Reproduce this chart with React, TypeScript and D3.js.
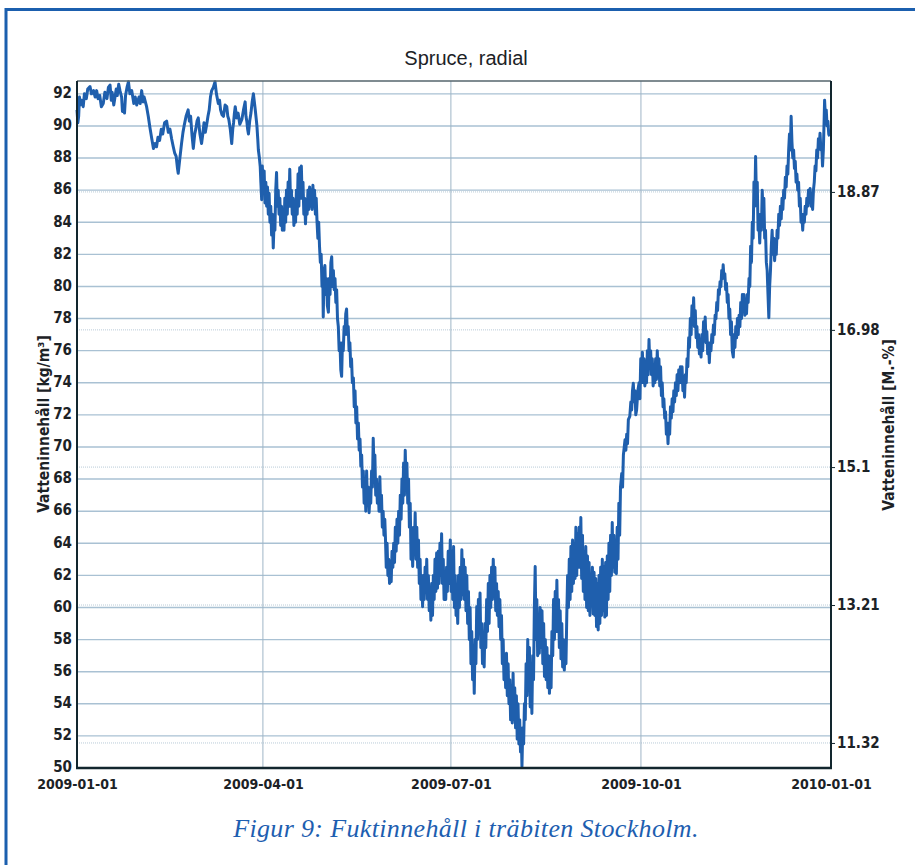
import { useEffect, useRef } from "react";
import * as d3 from "d3";

// moisture readings as [day of year (from 2009-01-01), kg/m³]
const q1: [number, number][] = [
  [0, 91.0], [0.4, 90.2], [0.8, 90.6], [1.2, 91.8], [1.5, 91.3], [2.2, 91.6], [3, 91.2], [3.6, 92.0], [4.5, 91.7],
  [5.2, 92.3], [6.3, 92.45], [7, 92.0], [8, 92.2], [8.8, 91.8], [9.5, 92.2], [10.2, 91.7], [11, 91.9], [11.8, 91.2],
  [12.7, 91.4], [13.5, 92.1], [14.5, 91.7], [15.2, 92.4], [16, 92.55], [16.6, 91.6], [17, 92.1], [17.8, 91.3],
  [18.4, 91.8], [19, 92.3], [19.5, 91.9], [20.2, 92.6], [20.8, 92.2], [21.6, 91.8], [22, 90.9], [22.4, 91.3],
  [23, 90.8], [23.5, 91.9], [24.2, 92.4], [24.9, 92.75], [25.6, 92.0], [26.5, 92.2], [27.5, 91.4], [28.2, 91.8],
  [28.9, 91.3], [30, 91.8], [30.6, 91.4], [31.3, 92.2], [32, 91.5], [32.5, 91.8], [33.7, 91.2], [34.5, 90.6],
  [35.3, 89.9], [36.2, 89.2], [37, 88.6], [37.8, 88.9], [38.5, 88.7], [39.2, 89.3], [40, 89.1], [40.8, 89.8],
  [41.5, 89.5], [42.4, 90.2], [43.4, 90.3], [44.2, 89.6], [45, 89.8], [45.8, 89.2], [46.6, 88.7], [47.3, 88.3],
  [48, 88.1], [48.6, 87.4], [49, 87.05], [49.8, 88.0], [50.6, 88.9], [51.3, 89.6], [52, 90.1], [52.8, 90.6],
  [53.8, 91.0], [54.4, 90.3], [55, 90.6], [55.7, 89.4], [56.3, 88.6], [57, 89.5], [57.5, 89.8], [58.1, 90.3],
  [58.7, 90.5], [59.5, 89.5], [60.3, 88.9], [60.9, 89.5], [61.5, 90.2], [62.1, 89.6], [62.8, 90.1], [63.4, 90.6],
  [64, 91.0], [64.6, 91.8], [65.2, 92.2], [66, 92.4], [66.8, 92.75], [67.5, 92.0], [68.4, 91.4], [69, 91.6],
  [69.5, 91.0], [70.2, 90.7], [70.9, 90.6], [71.7, 91.3], [72.5, 91.2], [73, 90.6], [73.5, 90.4], [74.2, 89.8],
  [74.9, 88.9], [75.4, 89.8], [75.8, 90.2], [76.2, 90.8], [76.6, 91.2], [77.3, 90.5], [78, 90.8], [78.8, 90.1],
  [79.8, 90.4], [80.6, 91.0], [81.4, 91.5], [81.8, 90.6], [82.2, 90.3], [82.6, 89.8], [83, 89.5], [83.6, 90.3],
  [84.2, 90.8], [84.8, 91.5], [85.4, 92.0], [86.3, 91.0], [86.7, 90.5], [87.1, 90.0], [87.5, 89.2], [87.8, 88.5],
  [88.3, 88.0], [88.7, 87.45], [89.0, 86.5], [89.4, 85.4], [89.7, 87.5],
];

const q2: [number, number][] = [
  [90.2, 86.0], [90.6, 87.2], [91, 85.2], [91.4, 86.5], [91.8, 85.0], [92.2, 86.2], [92.6, 84.5], [93, 85.8],
  [93.4, 84.0], [93.8, 85.0], [94.2, 83.2], [94.6, 84.5], [95, 82.4], [95.4, 84.0], [95.8, 83.5], [96.2, 86.0],
  [96.6, 87.1], [97, 85.0], [97.4, 86.0], [97.8, 84.5], [98.2, 85.5], [98.6, 83.8], [99, 85.0], [99.4, 83.5],
  [99.8, 84.5], [100.2, 83.5], [100.6, 85.5], [101, 84.0], [101.4, 86.0], [101.8, 84.5], [102.2, 86.5], [102.6, 85.0],
  [103, 87.3], [103.4, 85.0], [103.8, 86.0], [104.2, 84.5], [104.6, 85.5], [105, 83.8], [105.4, 85.0], [105.8, 84.0],
  [106.2, 86.0], [106.6, 84.5], [107, 87.0], [107.4, 85.0], [107.8, 87.4], [108.2, 85.5], [108.6, 87.5], [109, 85.5],
  [109.4, 86.5], [109.8, 84.5], [110.2, 85.5], [110.6, 83.9], [111, 85.2], [111.4, 84.5], [111.8, 86.0], [112.2, 84.8],
  [112.6, 86.2], [113, 85.0], [113.4, 86.0], [113.8, 84.8], [114.2, 86.3], [114.6, 85.0], [115, 86.0], [115.4, 84.5],
  [115.8, 85.5], [116.2, 84.0], [116.6, 83.0], [117, 84.0], [117.4, 82.5], [117.8, 81.5], [118.2, 82.0], [118.6, 80.0],
  [119, 80.5], [119.2, 78.1], [119.6, 81.0], [120, 81.3], [120.4, 79.5], [120.8, 80.5], [121.2, 78.8], [121.7, 78.4],
  [122.1, 80.5], [122.5, 79.5], [122.9, 81.5], [123.3, 81.85], [123.7, 80.0], [124.1, 81.0], [124.5, 79.8], [124.9, 80.5],
  [125.3, 79.0], [125.7, 79.8], [126.1, 78.0], [126.5, 77.5], [126.9, 76.0], [127.3, 76.5], [127.7, 74.8], [128.1, 74.4],
  [128.5, 76.5], [128.9, 76.0], [129.3, 77.5], [129.7, 77.0], [130.1, 78.3], [130.5, 78.6], [130.9, 77.0], [131.3, 77.5],
  [131.7, 76.0], [132.1, 76.5], [132.5, 75.0], [132.9, 75.5], [133.3, 74.0], [133.8, 74.3], [134.2, 72.5], [134.6, 73.5],
  [135, 71.5], [135.4, 72.5], [135.8, 70.5], [136.2, 71.5], [136.6, 69.8], [137, 70.5], [137.4, 68.8], [137.8, 69.5],
  [138.2, 67.5], [138.6, 68.5], [139, 66.5], [139.4, 68.0], [139.8, 66.0], [140.2, 68.5], [140.6, 66.5], [141, 67.5],
  [141.4, 65.9], [141.8, 67.0], [142.2, 66.5], [142.6, 68.5], [143, 67.5], [143.4, 70.55], [143.8, 68.5], [144.2, 69.5],
  [144.6, 67.0], [145, 68.0], [145.4, 66.5], [145.8, 67.5], [146.2, 66.0], [146.6, 68.15], [147, 66.0], [147.4, 67.0],
  [147.8, 65.0], [148.2, 66.0], [148.6, 64.5], [149, 65.5], [149.3, 64.4], [149.7, 62.5], [150.1, 64.0], [150.5, 62.0],
  [150.9, 63.0], [151.3, 61.5], [151.7, 62.5], [152.1, 61.6], [152.5, 63.5], [152.9, 62.5], [153.3, 64.0], [153.7, 62.8],
  [154.1, 65.0], [154.5, 63.5], [154.9, 65.5], [155.3, 64.0], [155.7, 66.0], [156.1, 64.5], [156.5, 67.0], [156.9, 65.5],
  [157.3, 68.0], [157.7, 66.5], [158.1, 69.0], [158.5, 67.0], [158.9, 69.8], [159.3, 67.5], [159.7, 69.0], [160.1, 66.5],
  [160.5, 68.0], [160.9, 65.0], [161.3, 66.5], [161.7, 63.0], [162.1, 64.5], [162.5, 62.55], [162.9, 65.0], [163.3, 63.5],
  [163.7, 65.9], [164.1, 63.0], [164.5, 65.0], [164.9, 62.5], [165.3, 64.2], [165.7, 61.5], [166.1, 63.0], [166.5, 60.5],
  [166.9, 62.0], [167.3, 60.05], [167.7, 62.0], [168.1, 60.5], [168.5, 62.5], [168.9, 61.0], [169.3, 63.0], [169.7, 60.5],
  [170.1, 62.0], [170.5, 59.8], [170.9, 61.0], [171.3, 59.2], [171.7, 61.5], [172.1, 59.5], [172.5, 62.0], [172.9, 60.5],
  [173.3, 63.0], [173.7, 61.0], [174.1, 63.4], [174.5, 61.2], [174.9, 63.5], [175.3, 61.5], [175.7, 64.0], [176.1, 62.0],
  [176.5, 64.6], [176.9, 61.5], [177.3, 63.0], [177.7, 60.5], [178.1, 62.0], [178.5, 60.5], [178.9, 62.5], [179.3, 61.0],
  [179.7, 63.5],
];

const q3: [number, number][] = [
  [180.3, 61.5], [180.7, 64.2], [181.1, 61.0], [181.5, 63.5], [181.9, 60.5], [182.3, 63.8], [182.7, 60.0], [183.1, 62.0],
  [183.5, 59.5], [183.9, 61.0], [184.3, 59.0], [184.7, 62.0], [185.1, 60.0], [185.5, 62.5], [185.9, 60.5], [186.3, 63.6],
  [186.7, 60.8], [187.1, 63.0], [187.5, 60.5], [187.9, 62.5], [188.3, 59.8], [188.7, 62.0], [189.1, 59.0], [189.5, 61.0],
  [189.9, 58.0], [190.3, 60.0], [190.7, 56.5], [191.1, 58.5], [191.5, 55.5], [191.9, 57.5], [192.3, 54.65], [192.7, 58.0],
  [193.1, 56.5], [193.5, 60.05], [193.9, 58.0], [194.3, 60.5], [194.7, 58.5], [195.1, 60.9], [195.5, 57.5], [195.9, 59.0],
  [196.3, 56.5], [196.7, 58.0], [197.1, 56.3], [197.5, 59.0], [197.9, 57.5], [198.3, 60.5], [198.7, 58.5], [199.1, 61.5],
  [199.5, 59.0], [199.9, 62.0], [200.3, 60.0], [200.7, 62.5], [201.1, 60.5], [201.5, 63.0], [201.9, 61.0], [202.3, 62.5],
  [202.7, 59.8], [203.1, 61.5], [203.5, 59.5], [203.9, 61.0], [204.3, 58.8], [204.7, 60.5], [205.1, 58.0], [205.5, 59.5],
  [205.9, 56.5], [206.3, 58.0], [206.7, 55.5], [207.1, 57.0], [207.5, 55.0], [207.9, 57.15], [208.3, 54.5], [208.7, 56.5],
  [209.1, 54.0], [209.5, 55.5], [209.9, 53.0], [210.3, 55.0], [210.7, 52.8], [211.1, 55.9], [211.5, 53.0], [211.9, 55.0],
  [212.3, 52.5], [212.7, 54.5], [213.1, 51.8], [213.5, 54.0], [213.9, 51.5], [214.3, 53.0], [214.7, 51.0], [215.1, 52.0],
  [215.4, 50.1], [215.8, 52.5], [216.2, 51.5], [216.6, 54.0], [217, 53.0], [217.4, 56.5], [217.8, 54.5], [218.2, 58.0],
  [218.6, 55.0], [219, 57.5], [219.4, 53.8], [219.8, 56.0], [220.2, 53.4], [220.6, 57.0], [221, 55.5], [221.4, 60.0],
  [221.8, 62.55], [222.2, 58.0], [222.6, 60.5], [223, 57.0], [223.4, 59.5], [223.8, 57.15], [224.2, 60.0], [224.6, 57.5],
  [225.1, 59.8], [225.5, 56.5], [225.9, 59.0], [226.3, 55.7], [226.7, 58.0], [227.1, 55.5], [227.5, 57.5], [227.9, 55.0],
  [228.3, 57.0], [228.7, 54.65], [229.1, 56.0], [229.5, 55.0], [229.9, 58.5], [230.3, 57.0], [230.7, 60.5], [231.1, 58.0],
  [231.5, 61.0], [231.9, 58.5], [232.3, 61.7], [232.7, 58.5], [233.1, 60.5], [233.5, 57.5], [233.9, 59.8], [234.3, 56.8],
  [234.7, 59.0], [235.1, 56.3], [235.5, 58.0], [235.9, 56.1], [236.3, 57.5], [236.7, 56.5], [237.1, 59.5], [237.5, 62.0],
  [237.9, 60.0], [238.3, 63.0], [238.7, 60.5], [239.1, 63.8], [239.5, 61.0], [239.9, 64.2], [240.3, 61.5], [240.7, 63.5],
  [241.1, 61.8], [241.5, 65.0], [241.9, 62.0], [242.3, 64.6], [242.7, 62.5], [243.1, 65.0], [243.5, 62.5], [243.9, 65.6],
  [244.3, 61.8], [244.7, 64.5], [245.1, 61.0], [245.5, 63.5], [245.9, 60.5], [246.3, 63.8], [246.7, 60.0], [247.1, 63.2],
  [247.5, 59.8], [247.9, 62.8], [248.3, 59.5], [248.7, 62.0], [249.1, 60.2], [249.5, 62.5], [249.9, 59.6], [250.3, 62.2],
  [250.7, 59.5], [251.1, 61.8], [251.5, 58.8], [251.9, 61.5], [252.3, 58.6], [252.7, 62.0], [253.1, 59.0], [253.5, 62.5],
  [253.9, 59.5], [254.3, 63.0], [254.7, 59.8], [255.1, 62.5], [255.5, 59.4], [255.9, 62.8], [256.3, 59.5], [256.7, 63.2],
  [257.1, 60.5], [257.5, 64.0], [257.9, 61.0], [258.3, 64.5], [258.7, 62.0], [259.1, 65.3], [259.5, 62.5], [259.9, 64.5],
  [260.3, 62.2], [260.7, 64.0], [261.1, 62.1], [261.5, 65.0], [261.9, 63.0], [262.3, 66.5], [262.7, 64.5], [263.1, 67.5],
  [263.7, 68.35], [264.1, 67.5], [264.5, 69.5], [265.3, 70.45], [265.7, 69.8], [266.1, 70.8], [266.5, 70.2], [266.9, 71.7],
  [267.6, 71.9], [268.1, 72.8], [268.5, 72.3], [268.9, 73.5], [269.3, 73.97], [269.7, 72.8], [270.1, 73.5], [270.5, 72.0],
  [270.9, 72.3], [271.5, 73.5], [272.1, 74.0],
];

const q4: [number, number][] = [
  [272.5, 73.0], [272.9, 75.5], [273.3, 74.0], [273.7, 75.9], [274.1, 74.0], [274.5, 75.5], [274.9, 73.8], [275.3, 75.0],
  [275.7, 74.0], [276.1, 76.0], [276.5, 74.5], [276.9, 76.7], [277.3, 75.0], [277.7, 76.0], [278.1, 74.5], [278.5, 75.5],
  [278.9, 73.8], [279.3, 75.0], [279.7, 74.0], [280.1, 75.5], [280.5, 74.2], [280.9, 76.0], [281.3, 74.5], [281.7, 75.5],
  [282.1, 73.8], [282.5, 75.0], [282.9, 73.2], [283.3, 74.0], [283.7, 72.5], [284.1, 73.0], [284.5, 71.8], [284.9, 72.2],
  [285.3, 70.8], [285.7, 71.5], [286.1, 70.2], [286.5, 71.5], [286.9, 70.8], [287.3, 72.5], [287.7, 71.8], [288.1, 73.0],
  [288.5, 72.2], [288.9, 73.5], [289.3, 72.8], [289.7, 74.0], [290.1, 73.2], [290.5, 74.5], [290.9, 73.5], [291.3, 74.8],
  [291.7, 74.0], [292.1, 75.0], [292.5, 74.0], [292.9, 75.0], [293.3, 73.5], [293.7, 74.2], [294.1, 73.1], [294.5, 74.5],
  [294.9, 74.0], [295.3, 75.5], [295.7, 75.0], [296.1, 76.8], [296.5, 76.2], [296.9, 78.0], [297.3, 77.0], [297.7, 78.8],
  [298.1, 77.8], [298.5, 79.3], [298.9, 77.5], [299.3, 78.5], [299.7, 76.8], [300.1, 77.5], [300.5, 76.2], [300.9, 77.0],
  [301.3, 75.8], [301.7, 76.5], [302.1, 75.6], [302.5, 77.0], [302.9, 76.0], [303.3, 77.8], [303.7, 76.8], [304.1, 78.1],
  [304.5, 76.5], [304.9, 77.2], [305.3, 75.8], [305.7, 76.5], [306.1, 75.25], [306.5, 76.5], [306.9, 76.0], [307.3, 77.0],
  [307.7, 76.5], [308.1, 77.6], [308.5, 77.0], [308.9, 78.2], [309.3, 78.0], [309.7, 79.0], [310.1, 78.5], [310.5, 79.8],
  [310.9, 79.5], [311.3, 80.3], [311.7, 80.0], [312.1, 81.0], [312.5, 80.5], [312.8, 81.35], [313.2, 80.5], [313.6, 80.8],
  [314, 79.8], [314.4, 80.2], [314.8, 79.0], [315.2, 79.5], [315.6, 78.0], [316, 78.6], [316.4, 77.0], [316.8, 77.8],
  [317.2, 76.0], [317.7, 75.6], [318.1, 77.0], [318.5, 76.2], [318.9, 77.5], [319.3, 76.8], [319.7, 78.0], [320.1, 77.0],
  [320.5, 78.2], [320.9, 77.5], [321.3, 79.0], [321.7, 78.0], [322.1, 79.5], [322.5, 78.5], [322.9, 79.5], [323.3, 78.2],
  [323.7, 79.2], [324.1, 78.3], [324.5, 79.5], [324.9, 79.0], [325.3, 80.5], [325.7, 80.0], [326.1, 82.5], [326.5, 81.5],
  [326.9, 84.0], [327.3, 83.0], [327.7, 86.5], [328.1, 85.0], [328.5, 88.1], [328.9, 85.5], [329.3, 86.5], [329.7, 83.5],
  [330.1, 84.0], [330.5, 82.7], [330.9, 84.5], [331.3, 83.5], [331.7, 86.0], [332.1, 84.5], [332.5, 85.5], [332.9, 83.0],
  [333.3, 83.5], [333.7, 81.5], [334.1, 81.0], [334.5, 79.5], [334.9, 78.05], [335.3, 80.0], [335.7, 81.0], [336.1, 82.5],
  [336.5, 83.5], [336.9, 82.0], [337.3, 83.0], [337.7, 81.6], [338.1, 82.5], [338.5, 82.0], [338.9, 83.5], [339.3, 83.0],
  [339.7, 84.5], [340.1, 83.8], [340.5, 85.0], [340.9, 84.2], [341.3, 85.5], [341.7, 84.8], [342.1, 86.0], [342.5, 85.5],
  [342.9, 86.8], [343.3, 86.2], [343.7, 87.5], [344.1, 87.0], [344.5, 88.5], [344.9, 89.5], [345.3, 88.5], [345.7, 90.6],
  [346.1, 89.0], [346.5, 88.0], [346.9, 88.5], [347.3, 87.35], [347.7, 87.8], [348.1, 86.5], [348.5, 87.0], [348.9, 86.0],
  [349.3, 86.5], [349.7, 85.0], [350.1, 85.5], [350.5, 84.0], [350.9, 84.5], [351.3, 83.5], [351.7, 84.5], [352.1, 84.0],
  [352.5, 85.0], [352.9, 84.5], [353.3, 85.5], [353.7, 85.0], [354.1, 86.0], [354.5, 85.5], [354.9, 86.1], [355.3, 85.0],
  [355.7, 85.5], [356.1, 84.8], [356.5, 86.0], [356.9, 86.5], [357.3, 87.5], [357.7, 87.2], [358.1, 88.5], [358.5, 88.0],
  [358.9, 89.2], [359.3, 88.8], [359.7, 89.55], [360.1, 88.5], [360.5, 88.8], [360.9, 87.5], [361.3, 88.5], [361.7, 90.5],
  [361.9, 91.6], [362.3, 90.5], [362.7, 91.0], [363.1, 90.0], [363.5, 90.3], [363.9, 89.5], [364.3, 89.35],
];

const leftTicks = d3.range(50, 93, 2);
const rightTicks = [11.32, 13.21, 15.1, 16.98, 18.87];
const dateTicks = ["2009-01-01", "2009-04-01", "2009-07-01", "2009-10-01", "2010-01-01"];

const title = "Spruce, radial";
const leftLabel = "Vatteninnehåll [kg/m³]";
const rightLabel = "Vatteninnehåll [M.-%]";
const caption = "Figur 9: Fuktinnehåll i träbiten Stockholm.";

const narrow = "'Liberation Sans Narrow', 'Arial Narrow', 'DejaVu Sans Condensed', sans-serif";

export default function App() {
  const ref = useRef<SVGSVGElement>(null);

  useEffect(() => {
    const width = 915,
      height = 865;
    const plot = { left: 77, right: 831, top: 81, bottom: 768 };

    const svg = d3.select(ref.current);
    svg.selectAll("*").remove();
    svg.attr("width", width).attr("height", height);

    svg.append("rect").attr("width", width).attr("height", height).attr("fill", "#fff");

    // blue page frame
    svg
      .append("rect")
      .attr("x", 6)
      .attr("y", 9.5)
      .attr("width", width + 20)
      .attr("height", height + 20)
      .attr("fill", "none")
      .attr("stroke", "#1b5fae")
      .attr("stroke-width", 3);

    const start = new Date(2009, 0, 1);
    const x = d3
      .scaleTime()
      .domain([start, new Date(2010, 0, 1)])
      .range([plot.left, plot.right]);
    const y = d3.scaleLinear().domain([50, 92.8]).range([plot.bottom, plot.top]);
    const yRight = d3.scaleLinear().domain([10.977, 20.39]).range([plot.bottom, plot.top]);

    const toDate = (d: number) => new Date(start.getTime() + d * 86400000);
    const series = [...q1, ...q2, ...q3, ...q4].map(([d, v]) => ({ date: toDate(d), v }));
    const tickDates = dateTicks.map((s) => {
      const [yy, mm, dd] = s.split("-").map(Number);
      return new Date(yy, mm - 1, dd);
    });

    const g = svg.append("g");

    // horizontal grid
    g.selectAll(".hgrid")
      .data(leftTicks)
      .enter()
      .append("line")
      .attr("x1", plot.left)
      .attr("x2", plot.right)
      .attr("y1", (d) => y(d))
      .attr("y2", (d) => y(d))
      .attr("stroke", "#a9c1d3")
      .attr("stroke-width", 1.4);

    // right-axis grid (dotted)
    g.selectAll(".rgrid")
      .data(rightTicks)
      .enter()
      .append("line")
      .attr("x1", plot.left)
      .attr("x2", plot.right)
      .attr("y1", (d) => yRight(d))
      .attr("y2", (d) => yRight(d))
      .attr("stroke", "#b9cbd8")
      .attr("stroke-width", 1)
      .attr("stroke-dasharray", "1,1");

    // vertical grid
    g.selectAll(".vgrid")
      .data(tickDates.slice(1, -1))
      .enter()
      .append("line")
      .attr("x1", (d) => x(d))
      .attr("x2", (d) => x(d))
      .attr("y1", plot.top)
      .attr("y2", plot.bottom)
      .attr("stroke", "#9fb5c6")
      .attr("stroke-width", 1);

    // data line
    const line = d3
      .line<{ date: Date; v: number }>()
      .x((d) => x(d.date))
      .y((d) => y(d.v));

    g.append("path")
      .datum(series)
      .attr("fill", "none")
      .attr("stroke", "#1f5fad")
      .attr("stroke-width", 3)
      .attr("stroke-linejoin", "round")
      .attr("d", line);

    // frame
    g.append("line")
      .attr("x1", plot.left)
      .attr("x2", plot.right)
      .attr("y1", plot.top)
      .attr("y2", plot.top)
      .attr("stroke", "#55656c")
      .attr("stroke-width", 1.5);
    g.append("line")
      .attr("x1", plot.left)
      .attr("x2", plot.left)
      .attr("y1", plot.top)
      .attr("y2", plot.bottom)
      .attr("stroke", "#12262e")
      .attr("stroke-width", 2);
    g.append("line")
      .attr("x1", plot.right)
      .attr("x2", plot.right)
      .attr("y1", plot.top)
      .attr("y2", plot.bottom)
      .attr("stroke", "#12262e")
      .attr("stroke-width", 2);
    g.append("line")
      .attr("x1", plot.left - 1)
      .attr("x2", plot.right + 1)
      .attr("y1", plot.bottom)
      .attr("y2", plot.bottom)
      .attr("stroke", "#12262e")
      .attr("stroke-width", 2.5);

    // left axis labels
    const leftAxis = svg
      .append("g")
      .attr("transform", `translate(${plot.left},0)`)
      .call(d3.axisLeft(y).tickValues(leftTicks).tickSize(0).tickPadding(5).tickFormat(d3.format("d")));
    leftAxis.select(".domain").remove();
    leftAxis
      .selectAll("text")
      .attr("dy", "0.25em")
      .style("font-family", narrow)
      .style("font-size", "15px")
      .style("font-weight", "bold")
      .style("fill", "#1c2226");

    // right axis labels
    const rightAxis = svg
      .append("g")
      .attr("transform", `translate(${plot.right},0)`)
      .call(d3.axisRight(yRight).tickValues(rightTicks).tickSize(4).tickPadding(2).tickFormat((d) => String(d)));
    rightAxis.select(".domain").remove();
    rightAxis.selectAll("line").attr("stroke", "#12262e");
    rightAxis
      .selectAll("text")
      .style("font-family", narrow)
      .style("font-size", "15px")
      .style("font-weight", "bold")
      .style("fill", "#1c2226");

    // bottom axis labels
    const bottomAxis = svg
      .append("g")
      .attr("transform", `translate(0,${plot.bottom})`)
      .call(
        d3
          .axisBottom(x)
          .tickValues(tickDates)
          .tickSize(0)
          .tickPadding(11)
          .tickFormat((d) => d3.timeFormat("%Y-%m-%d")(d as Date))
      );
    bottomAxis.select(".domain").remove();
    bottomAxis
      .selectAll("text")
      .style("font-family", narrow)
      .style("font-size", "14px")
      .style("font-weight", "bold")
      .style("fill", "#1c2226");

    // title
    svg
      .append("text")
      .attr("x", 466)
      .attr("y", 65)
      .attr("text-anchor", "middle")
      .style("font-family", "'Liberation Sans', Arial, sans-serif")
      .style("font-size", "20px")
      .style("fill", "#1c2226")
      .text(title);

    // axis titles
    svg
      .append("text")
      .attr("transform", "translate(49,424) rotate(-90)")
      .attr("text-anchor", "middle")
      .style("font-family", narrow)
      .style("font-size", "15.5px")
      .style("font-weight", "bold")
      .style("fill", "#1c2226")
      .text(leftLabel);

    svg
      .append("text")
      .attr("transform", "translate(894,425) rotate(-90)")
      .attr("text-anchor", "middle")
      .style("font-family", narrow)
      .style("font-size", "15.5px")
      .style("font-weight", "bold")
      .style("fill", "#1c2226")
      .text(rightLabel);

    // figure caption
    svg
      .append("text")
      .attr("x", 466)
      .attr("y", 837)
      .attr("text-anchor", "middle")
      .style("font-family", "'Liberation Serif', 'Times New Roman', serif")
      .style("font-size", "26px")
      .style("letter-spacing", "0.35px")
      .style("font-style", "italic")
      .style("fill", "#1d5eb0")
      .text(caption);
  }, []);

  return <svg ref={ref} style={{ position: "absolute", left: 0, top: 0 }} />;
}
